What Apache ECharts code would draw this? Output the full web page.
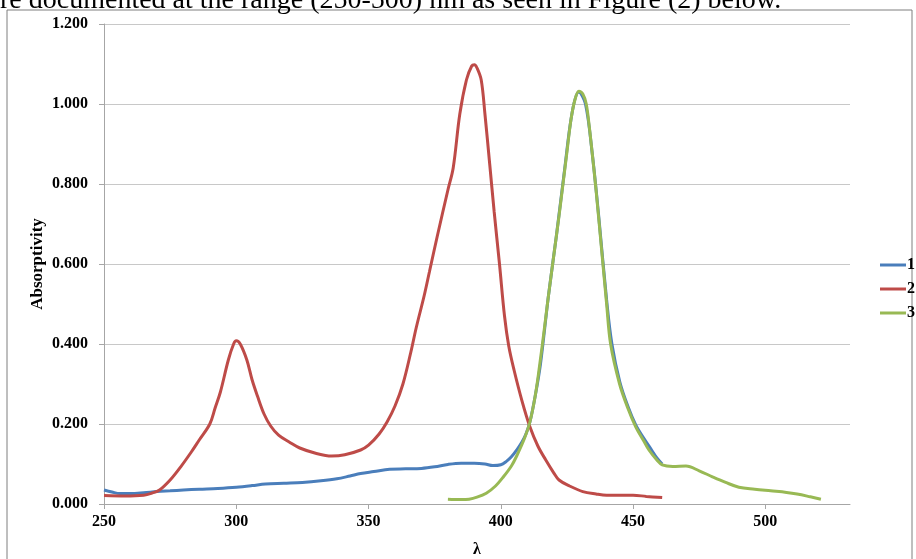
<!DOCTYPE html>
<html>
<head>
<meta charset="utf-8">
<script src="https://cdn.jsdelivr.net/npm/echarts@6/dist/echarts.min.js"></script>
<style>
  html, body { margin: 0; padding: 0; background: #fff; }
  #chart { width: 916px; height: 559px; }
</style>
</head>
<body>
<div id="chart"></div>
<script>
// series 1 (blue)
const wave1 = [250, 253, 256, 260, 265, 270, 275, 280, 286, 293, 300, 306, 311, 318, 325, 332, 338, 343, 347, 352, 358, 364, 370, 375, 380, 385, 390, 394, 397, 400, 402, 404, 406, 408, 409.5, 411, 413, 415, 418, 421, 424, 427, 429.5, 432, 434.5, 437, 440, 442, 445, 448, 451, 454, 457, 459, 461];
const abs1 = [0.035, 0.030, 0.026, 0.026, 0.028, 0.031, 0.033, 0.035, 0.037, 0.039, 0.042, 0.046, 0.050, 0.052, 0.054, 0.058, 0.063, 0.070, 0.076, 0.081, 0.087, 0.088, 0.089, 0.093, 0.099, 0.102, 0.102, 0.100, 0.096, 0.098, 0.106, 0.118, 0.135, 0.155, 0.175, 0.205, 0.270, 0.350, 0.520, 0.670, 0.830, 0.980, 1.030, 1.000, 0.880, 0.720, 0.510, 0.400, 0.305, 0.245, 0.198, 0.165, 0.135, 0.115, 0.100];

// series 2 (red)
const wave2 = [250, 258, 265, 268, 271, 275, 279, 283, 286, 290, 292, 294, 297, 299, 300, 301.5, 304, 306, 308, 310.5, 313, 316, 320, 324, 330, 336, 341, 347, 350, 354, 357, 360, 363, 366, 368, 371, 373, 376, 380, 382, 384.5, 387, 389, 390, 391, 392.6, 394, 395.8, 397.5, 399.5, 401.4, 403, 405, 408, 411, 414, 417, 420, 422, 426, 431, 436, 440, 445, 450, 455, 461];
const abs2 = [0.021, 0.020, 0.022, 0.027, 0.035, 0.060, 0.093, 0.130, 0.160, 0.200, 0.240, 0.280, 0.360, 0.400, 0.408, 0.400, 0.360, 0.310, 0.270, 0.225, 0.195, 0.172, 0.155, 0.140, 0.127, 0.120, 0.123, 0.135, 0.147, 0.175, 0.205, 0.245, 0.300, 0.380, 0.440, 0.520, 0.580, 0.670, 0.785, 0.840, 0.975, 1.060, 1.095, 1.098, 1.090, 1.060, 0.975, 0.850, 0.730, 0.600, 0.470, 0.395, 0.335, 0.258, 0.193, 0.145, 0.110, 0.078, 0.060, 0.045, 0.031, 0.025, 0.022, 0.022, 0.022, 0.019, 0.016];

// series 3 (green)
const wave3 = [380, 385, 388, 391, 394.5, 398, 401, 404, 406, 409, 411, 413, 414.6, 416.5, 418, 420, 422, 423.5, 425, 426.5, 428, 429.5, 431, 432.3, 433.5, 434.5, 436, 438, 440, 441.5, 444.9, 448, 451, 454, 456, 459, 461, 465, 470, 475, 480, 485, 490, 496, 502, 508, 512, 517, 521];
const abs3 = [0.012, 0.011, 0.012, 0.017, 0.027, 0.045, 0.068, 0.095, 0.120, 0.165, 0.205, 0.270, 0.343, 0.440, 0.520, 0.620, 0.720, 0.800, 0.880, 0.960, 1.010, 1.032, 1.025, 1.000, 0.940, 0.880, 0.785, 0.643, 0.500, 0.400, 0.300, 0.240, 0.193, 0.158, 0.135, 0.110, 0.098, 0.094, 0.095, 0.083, 0.068, 0.054, 0.042, 0.037, 0.033, 0.029, 0.025, 0.018, 0.012];

const seriesNames = ['1', '2', '3'];
const seriesColors = ['#4a7ebb', '#be4b48', '#98b954'];
const xTicks = [250, 300, 350, 400, 450, 500];

const pairs = (xs, ys) => xs.map((x, i) => [x, ys[i]]);
const allData = [pairs(wave1, abs1), pairs(wave2, abs2), pairs(wave3, abs3)];

const serif = '"Liberation Serif", "DejaVu Serif", serif';
const chart = echarts.init(document.getElementById('chart'));

const option = {
  backgroundColor: '#fff',
  animation: false,
  graphic: [
    {
      type: 'rect',
      shape: { x: 7, y: 10, width: 905, height: 560 },
      style: { fill: 'none', stroke: '#7f7f7f', lineWidth: 1 }
    },
    {
      type: 'text',
      left: 0,
      top: -13,
      style: {
        text: 're documented at the range (250-500) nm as seen in Figure (2) below.',
        font: '28px ' + serif,
        fill: '#000'
      }
    }
  ],
  grid: { left: 104, right: 66, top: 24, bottom: 55, outerBoundsMode: 'none', containLabel: false },
  legend: {
    data: seriesNames,
    orient: 'vertical',
    left: 880,
    top: 257,
    padding: 0,
    icon: 'rect',
    itemWidth: 26,
    itemHeight: 3,
    itemGap: 8,
    textStyle: { fontFamily: serif, fontWeight: 'bold', fontSize: 16, color: '#000', padding: [0, 0, 0, -4] }
  },
  xAxis: {
    type: 'value',
    min: 250,
    max: 532,
    interval: 50,
    name: 'λ',
    nameLocation: 'middle',
    nameGap: 38,
    nameMoveOverlap: false,
    nameTextStyle: { fontFamily: serif, fontWeight: 'bold', fontSize: 16, color: '#000' },
    axisLine: { show: true, lineStyle: { color: '#a6a6a6' } },
    axisTick: { show: true, length: 5, lineStyle: { color: '#a6a6a6' } },
    splitLine: { show: false },
    axisLabel: {
      showMaxLabel: false,
      margin: 10,
      fontFamily: serif, fontWeight: 'bold', fontSize: 16, color: '#000',
      formatter: v => (xTicks.indexOf(v) >= 0 ? String(v) : '')
    }
  },
  yAxis: {
    type: 'value',
    min: 0,
    max: 1.2,
    interval: 0.2,
    name: 'Absorptivity',
    nameLocation: 'middle',
    nameGap: 58,
    nameMoveOverlap: false,
    nameTextStyle: { fontFamily: serif, fontWeight: 'bold', fontSize: 17, color: '#000' },
    axisLine: { show: true, lineStyle: { color: '#a6a6a6' } },
    axisTick: { show: true, length: 5, lineStyle: { color: '#a6a6a6' } },
    splitLine: { show: true, lineStyle: { color: '#c8c8c8', width: 1 } },
    axisLabel: {
      margin: 16,
      fontFamily: serif, fontWeight: 'bold', fontSize: 16, color: '#000',
      formatter: v => v.toFixed(3)
    }
  },
  series: seriesNames.map((name, i) => ({
    name: name,
    type: 'line',
    data: allData[i],
    smooth: 0.35,
    showSymbol: false,
    symbol: 'none',
    color: seriesColors[i],
    lineStyle: { width: 3, color: seriesColors[i] }
  }))
};

chart.setOption(option);
</script>
</body>
</html>
